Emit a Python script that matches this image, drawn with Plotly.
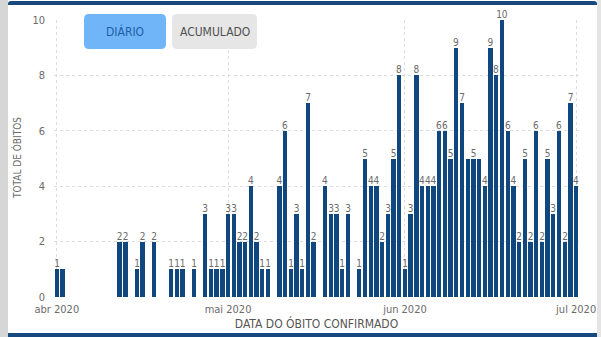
import plotly.graph_objects as go

# ---------------- data ----------------
dates = [
    "2020-04-01", "2020-04-02", "2020-04-12", "2020-04-13", "2020-04-15", "2020-04-16",
    "2020-04-18", "2020-04-21", "2020-04-22", "2020-04-23", "2020-04-25", "2020-04-27",
    "2020-04-28", "2020-04-29", "2020-04-30",
    "2020-05-01", "2020-05-02", "2020-05-03", "2020-05-04", "2020-05-05", "2020-05-06",
    "2020-05-07", "2020-05-08", "2020-05-10", "2020-05-11", "2020-05-12", "2020-05-13",
    "2020-05-14", "2020-05-15", "2020-05-16", "2020-05-18", "2020-05-19", "2020-05-20",
    "2020-05-21", "2020-05-22", "2020-05-24", "2020-05-25", "2020-05-26", "2020-05-27",
    "2020-05-28", "2020-05-29", "2020-05-30", "2020-05-31",
    "2020-06-01", "2020-06-02", "2020-06-03", "2020-06-04", "2020-06-05", "2020-06-06",
    "2020-06-07", "2020-06-08", "2020-06-09", "2020-06-10", "2020-06-11", "2020-06-12",
    "2020-06-13", "2020-06-14", "2020-06-15", "2020-06-16", "2020-06-17", "2020-06-18",
    "2020-06-19", "2020-06-20", "2020-06-21", "2020-06-22", "2020-06-23", "2020-06-24",
    "2020-06-25", "2020-06-26", "2020-06-27", "2020-06-28", "2020-06-29", "2020-06-30",
    "2020-07-01",
]
obitos = [
    1, 1, 2, 2, 1, 2,
    2, 1, 1, 1, 1, 3,
    1, 1, 1,
    3, 3, 2, 2, 4, 2,
    1, 1, 4, 6, 1, 3,
    1, 7, 2, 4, 3, 3,
    1, 3, 1, 5, 4, 4,
    2, 3, 5, 8,
    1, 3, 8, 4, 4, 4,
    6, 6, 5, 9, 7, 5,
    5, 5, 4, 9, 8, 10,
    6, 4, 2, 5, 2, 6,
    2, 5, 3, 6, 2, 7,
    4,
]
# data labels that the reference chart does not display (overlap suppression)
hidden_labels = ["2020-04-02", "2020-06-12", "2020-06-14"]

month_ticks = ["2020-04-01", "2020-05-01", "2020-06-01", "2020-07-01"]
month_labels = ["abr 2020", "mai 2020", "jun 2020", "jul 2020"]
y_ticks = [0, 2, 4, 6, 8, 10]

x_title = "DATA DO ÓBITO CONFIRMADO"
y_title = "TOTAL DE ÓBITOS"
buttons = ["DIÁRIO", "ACUMULADO"]

bar_text = ["" if d in hidden_labels else str(v) for d, v in zip(dates, obitos)]

# ---------------- figure ----------------
W, H = 601, 337
ML, MR, MT, MB = 54, 22, 20, 40
PW, PH = W - ML - MR, H - MT - MB

def px(x):
    return (x - ML) / PW

def py(y):
    return (H - MB - y) / PH

FONT = "DejaVu Sans Condensed, Liberation Sans, sans-serif"
BAR = "#11477f"

fig = go.Figure(
    go.Bar(
        x=dates,
        y=obitos,
        text=bar_text,
        textposition="outside",
        constraintext="none",
        textfont=dict(family=FONT, size=10, color="#6b6b6b"),
        marker=dict(color=BAR, line=dict(width=0)),
        width=0.76 * 86400000,
        cliponaxis=False,
        hoverinfo="x+y",
    )
)

def rrect(x0, y0, x1, y1, r, fill, layer="below"):
    # rounded rectangle in pixel coordinates -> paper coordinates
    rx, ry = r / PW, r / PH
    X0, X1 = px(x0), px(x1)
    Y0, Y1 = py(y1), py(y0)  # Y0 bottom, Y1 top
    path = (
        f"M {X0+rx},{Y1} L {X1-rx},{Y1} Q {X1},{Y1} {X1},{Y1-ry} "
        f"L {X1},{Y0+ry} Q {X1},{Y0} {X1-rx},{Y0} "
        f"L {X0+rx},{Y0} Q {X0},{Y0} {X0},{Y0+ry} "
        f"L {X0},{Y1-ry} Q {X0},{Y1} {X0+rx},{Y1} Z"
    )
    return dict(type="path", xref="paper", yref="paper", path=path,
                fillcolor=fill, line=dict(width=0), layer=layer)

def rect(x0, y0, x1, y1, fill, layer="below"):
    return dict(type="rect", xref="paper", yref="paper",
                x0=px(x0), x1=px(x1), y0=py(y1), y1=py(y0),
                fillcolor=fill, line=dict(width=0), layer=layer)

shapes = [
    rect(0, 0, 8, H, "#d6d6d6"),
    rect(597, 0, W, H, "#e4e4e4"),
    rrect(8, 1, 597, 8, 3, "#17497e"),
    rect(8, 5, 597, 8, "#ffffff"),
    rect(8, 333, 597, H, "#17497e"),
    rrect(84, 14, 166, 49, 5, "#70b5f8", layer="above"),
    rrect(172, 14, 257, 49, 5, "#e6e6e6", layer="above"),
]

annotations = [
    dict(x=px(125), y=py(32), xref="paper", yref="paper", text=buttons[0],
         xanchor="center", yanchor="middle",
         showarrow=False, font=dict(family=FONT, size=12, color="#1d5fa6")),
    dict(x=px(214.5), y=py(32), xref="paper", yref="paper", text=buttons[1],
         xanchor="center", yanchor="middle",
         showarrow=False, font=dict(family=FONT, size=12, color="#505050")),
    dict(x=px(17), y=py(158), xref="paper", yref="paper", text=y_title,
         xanchor="center", yanchor="middle",
         textangle=-90, showarrow=False,
         font=dict(family=FONT, size=10, color="#6b6b6b")),
]

fig.update_layout(
    width=W, height=H,
    margin=dict(l=ML, r=MR, t=MT, b=MB, autoexpand=False),
    paper_bgcolor="#ffffff",
    plot_bgcolor="#ffffff",
    showlegend=False,
    bargap=0,
    shapes=shapes,
    annotations=annotations,
    xaxis=dict(
        type="date",
        automargin=False,
        range=["2020-03-31 12:00", "2020-07-01 12:00"],
        tickvals=month_ticks,
        ticktext=month_labels,
        tickfont=dict(family=FONT, size=11, color="#6b6b6b"),
        showgrid=True, gridcolor="#dcdcdc", griddash="dot", gridwidth=1,
        zeroline=False, showline=False, ticks="",
        ticklabelstandoff=4,
        title=dict(text=x_title, standoff=0,
                   font=dict(family=FONT, size=12, color="#555555")),
    ),
    yaxis=dict(
        automargin=False,
        range=[0, 10],
        tickvals=y_ticks,
        tickfont=dict(family=FONT, size=11, color="#6b6b6b"),
        showgrid=True, gridcolor="#dcdcdc", griddash="dot", gridwidth=1,
        zeroline=False, showline=False, ticks="",
        ticklabelstandoff=8,
    ),
)

fig.write_html("out.html")
